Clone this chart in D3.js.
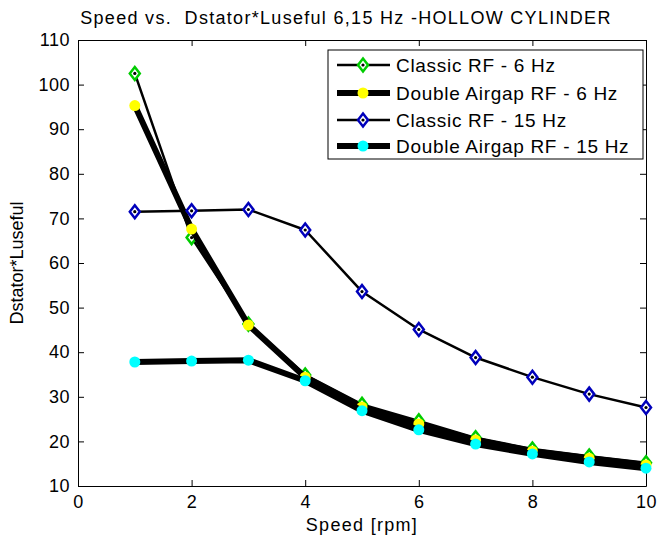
<!DOCTYPE html>
<html>
<head>
<meta charset="utf-8">
<script src="https://cdn.jsdelivr.net/npm/d3@7/dist/d3.min.js"></script>
<style>
    body { margin: 0; background: #fff; }
    text { font-family: 'Liberation Sans', Arial, sans-serif; fill: #000; }
</style>
</head>
<body>
<div id="chart"></div>
<script>
//Datos
const speed = [1, 2, 3, 4, 5, 6, 7, 8, 9, 10];
const classic6 = [102.5, 65.7, 46.3, 34.9, 28.3, 24.6, 20.8, 18.3, 16.7, 15.2];
const double6 = [95.3, 67.6, 46.1, 34.4, 27.7, 23.9, 20.3, 17.8, 16.2, 14.7];
const classic15 = [71.5, 71.7, 72.0, 67.4, 53.6, 45.1, 38.8, 34.4, 30.6, 27.6];
const double15 = [37.8, 38.0, 38.2, 33.6, 26.9, 22.6, 19.4, 17.2, 15.4, 14.0];

const seriesNames = ['Classic RF - 6 Hz', 'Double Airgap RF - 6 Hz', 'Classic RF - 15 Hz', 'Double Airgap RF - 15 Hz'];
const xTicks = [0, 2, 4, 6, 8, 10];
const yTicks = [10, 20, 30, 40, 50, 60, 70, 80, 90, 100, 110];

//Estilos por serie
let series = [
    {name: seriesNames[0], values: classic6, marker: 'diamond', color: '#00cc00', width: 2.5},
    {name: seriesNames[1], values: double6, marker: 'circle', color: '#ffff00', width: 6},
    {name: seriesNames[2], values: classic15, marker: 'diamond', color: '#0000bb', width: 2.5},
    {name: seriesNames[3], values: double15, marker: 'circle', color: '#00ffff', width: 6}
];

let margin = {top: 40, right: 11, bottom: 57, left: 78},
    width = 657 - margin.left - margin.right,
    height = 543 - margin.top - margin.bottom;

let svgRoot = d3.select('#chart')
    .append('svg')
    .attr('width', 657)
    .attr('height', 543);

svgRoot.append('rect').attr('width', 657).attr('height', 543).attr('fill', '#fff');

let svg = svgRoot.append('g')
    .attr('transform', 'translate(' + margin.left + ',' + margin.top + ')');

let x = d3.scaleLinear().domain([0, 10]).range([0, width]);
let y = d3.scaleLinear().domain([10, 110]).range([height, 0]);

//Ejes (ticks hacia dentro, caja cerrada)
function styleAxis(g) {
    g.selectAll('.domain').attr('stroke', '#000').attr('stroke-width', 1);
    g.selectAll('.tick line').attr('stroke', '#000').attr('stroke-width', 1);
    g.selectAll('.tick text').style('font-size', '18px').style('letter-spacing', '0.5px').attr('fill', '#000');
}

svg.append('g')
    .attr('transform', 'translate(0,' + height + ')')
    .call(d3.axisBottom(x).tickValues(xTicks).tickSizeInner(-6).tickSizeOuter(0).tickPadding(9))
    .call(styleAxis);

svg.append('g')
    .call(d3.axisTop(x).tickValues(xTicks).tickSizeInner(-6).tickSizeOuter(0).tickFormat(''))
    .call(styleAxis);

svg.append('g')
    .call(d3.axisLeft(y).tickValues(yTicks).tickSizeInner(-6).tickSizeOuter(0).tickPadding(8))
    .call(styleAxis);

svg.append('g')
    .attr('transform', 'translate(' + width + ',0)')
    .call(d3.axisRight(y).tickValues(yTicks).tickSizeInner(-6).tickSizeOuter(0).tickFormat(''))
    .call(styleAxis);

//Marcadores
let diamond = 'M0,-6.5L5,0L0,6.5L-5,0Z';

function drawMarker(g, s) {
    if (s.marker === 'diamond') {
        g.append('path')
            .attr('d', diamond)
            .attr('fill', '#fff')
            .attr('stroke', s.color)
            .attr('stroke-width', 2.5);
        g.append('circle').attr('r', 1.6).attr('fill', '#000');
    } else {
        g.append('circle')
            .attr('r', 5.5)
            .attr('fill', s.color);
    }
}

let line = d3.line()
    .x(function(d, i) { return x(speed[i]); })
    .y(function(d) { return y(d); });

series.forEach(function(s) {
    let g = svg.append('g').attr('class', 'serie');
    g.append('path')
        .datum(s.values)
        .attr('d', line)
        .attr('fill', 'none')
        .attr('stroke', '#000')
        .attr('stroke-width', s.width)
        .attr('stroke-linejoin', 'round');
    g.selectAll('.marker')
        .data(s.values)
        .enter()
        .append('g')
        .attr('class', 'marker')
        .attr('transform', function(d, i) { return 'translate(' + x(speed[i]) + ',' + y(d) + ')'; })
        .each(function() { drawMarker(d3.select(this), s); });
});

//Leyenda
let legend = svgRoot.append('g').attr('transform', 'translate(328,50)');
legend.append('rect')
    .attr('width', 315).attr('height', 109)
    .attr('fill', '#fff').attr('stroke', '#000').attr('stroke-width', 1);

let rowsY = [15, 43, 70, 96];
series.forEach(function(s, i) {
    let row = legend.append('g').attr('transform', 'translate(0,' + rowsY[i] + ')');
    row.append('line')
        .attr('x1', 9).attr('x2', 62)
        .attr('stroke', '#000').attr('stroke-width', s.width);
    let m = row.append('g').attr('transform', 'translate(35,0)');
    drawMarker(m, s);
    row.append('text')
        .attr('x', 68).attr('dy', '0.35em')
        .style('font-size', '19px')
        .style('letter-spacing', '0.7px')
        .text(s.name);
});

//Titulos
svgRoot.append('text')
    .attr('x', 346).attr('y', 24)
    .attr('text-anchor', 'middle')
    .style('font-size', '18px')
    .style('letter-spacing', '1.3px')
    .attr('xml:space', 'preserve')
    .text('Speed vs.  Dstator*Luseful 6,15 Hz -HOLLOW CYLINDER');

svgRoot.append('text')
    .attr('x', margin.left + width / 2).attr('y', 531)
    .attr('text-anchor', 'middle')
    .style('font-size', '18px')
    .style('letter-spacing', '1.3px')
    .text('Speed [rpm]');

svgRoot.append('text')
    .attr('transform', 'translate(23,' + (margin.top + height / 2) + ') rotate(-90)')
    .attr('text-anchor', 'middle')
    .style('font-size', '18px')
    .text('Dstator*Luseful');
</script>
</body>
</html>
